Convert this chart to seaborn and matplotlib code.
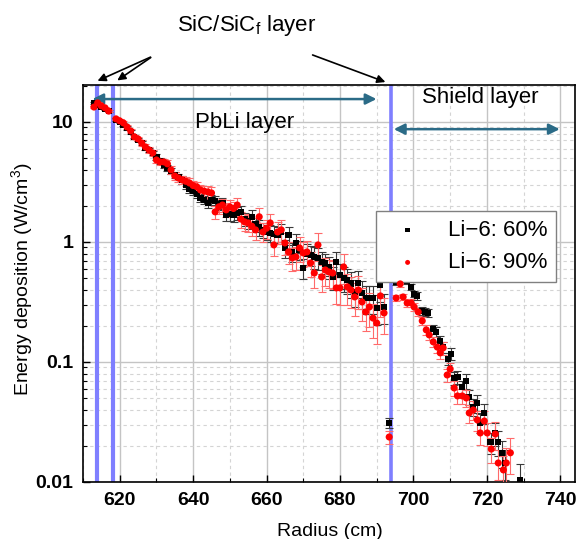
import numpy as np
import pandas as pd
import matplotlib
matplotlib.use("Agg")
import matplotlib.pyplot as plt
import matplotlib.ticker as mticker
import seaborn as sns

# ============================================
# DATA
# ============================================

# Li-6 60% enrichment
r_60 = [613, 614, 615, 616, 617,
        619, 620, 621, 622, 623, 624, 625, 626, 627, 628, 629,
        630, 631, 632, 633, 634, 635, 636, 637, 638, 639,
        640, 641, 642, 643, 644, 645, 646, 647, 648, 649,
        650, 651, 652, 653, 654, 655, 656, 657, 658, 659,
        660, 661, 662, 663, 664, 665, 666, 667, 668, 669,
        670, 671, 672, 673, 674, 675, 676, 677, 678, 679,
        680, 681, 682, 683, 684, 685, 686, 687, 688, 689,
        690, 691, 692, 693.4,
        695.3, 696.4, 697.2, 698.3, 699.4, 700.2, 701.0, 702.4, 703.2, 704.0,
        705.4, 706.2, 707.3, 708.1, 709.5, 710.3, 711.1, 712.0, 713.3, 714.4,
        715.2, 716.3, 717.4, 718.2, 719.3, 721.0, 722.3, 723.1, 724.2, 725.0,
        729.0]
e_60 = [14.4, 13.9, 13.3, 12.8, 12.3,
        10.4, 10.0, 9.44, 8.91, 8.25, 7.50, 7.08, 6.68, 6.07, 5.84, 5.52,
        5.11, 4.73, 4.38, 4.14, 3.91, 3.62, 3.48, 3.29, 2.99, 2.77,
        2.66, 2.51, 2.33, 2.24, 2.11, 2.24, 2.20, 2.05, 2.11, 1.68,
        1.71, 1.68, 1.74, 1.78, 1.55, 1.50, 1.62, 1.40, 1.33, 1.26,
        1.21, 1.19, 1.17, 1.14, 1.21, 0.891, 1.14, 0.825, 0.98, 0.858,
        0.607, 0.80, 0.78, 0.750, 0.736, 0.681, 0.66, 0.62, 0.511, 0.681,
        0.531, 0.501, 0.482, 0.45, 0.383, 0.455, 0.376, 0.341, 0.341, 0.341,
        0.282, 0.438, 0.287, 0.031,
        0.464, 0.551, 0.531, 0.473, 0.422, 0.369, 0.355, 0.266, 0.261, 0.256,
        0.188, 0.178, 0.150, 0.133, 0.106, 0.117, 0.0735, 0.0750, 0.0619, 0.0695,
        0.0511, 0.0422, 0.0455, 0.0310, 0.0376, 0.0215, 0.0256, 0.0215, 0.0175, 0.0144,
        0.0104]
err_60 = [2, 2, 2, 2, 2,
          3, 3, 3, 3, 3, 3, 3, 4, 4, 4, 4,
          5, 5, 5, 6, 6, 6, 6, 7, 7, 7,
          8, 8, 8, 8, 9, 9, 10, 10, 11, 11,
          12, 12, 12, 13, 13, 14, 14, 14, 15, 15,
          15, 16, 16, 16, 17, 17, 17, 18, 18, 18,
          19, 19, 19, 20, 20, 20, 21, 21, 22, 22,
          23, 23, 24, 24, 25, 25, 26, 26, 27, 27,
          28, 28, 28, 10,
          5, 5, 5, 6, 6, 6, 7, 7, 7, 8,
          9, 9, 10, 10, 11, 12, 12, 13, 13, 14,
          15, 16, 17, 18, 19, 20, 22, 24, 26, 28,
          35]

# Li-6 90% enrichment
r_90 = [613, 614, 615, 616, 617,
        619, 620, 621, 622, 623, 624, 625, 626, 627, 628, 629,
        630, 631, 632, 633, 634, 635, 636, 637, 638, 639,
        640, 641, 642, 643, 644, 645, 646, 647, 648, 649,
        650, 651, 652, 653, 654, 655, 656, 657, 658, 659,
        660, 661, 662, 663, 664, 665, 666, 667, 668, 669,
        670, 671, 672, 673, 674, 675, 676, 677, 678, 679,
        680, 681, 682, 683, 684, 685, 686, 687, 688, 689,
        690, 691, 692, 693.4,
        695.3, 696.4, 697.2, 698.3, 699.4, 700.2, 701.3, 702.4, 703.5, 704.3,
        705.4, 706.5, 707.3, 708.1, 709.2, 710.0, 711.1, 712.0, 713.3, 714.4,
        715.2, 716.3, 717.4, 718.2, 719.3, 720.1, 721.2, 722.3, 723.1, 724.5,
        725.3, 726.4]
e_90 = [13.3, 14.4, 13.6, 13.1, 12.3,
        10.6, 10.2, 9.81, 9.08, 8.41, 7.50, 7.22, 6.68, 6.19, 5.84, 5.52,
        4.82, 4.64, 4.64, 4.47, 3.98, 3.55, 3.41, 3.29, 3.20, 3.10,
        2.95, 2.88, 2.71, 2.65, 2.61, 2.56, 1.78, 1.96, 2.03, 1.85,
        1.96, 1.90, 2.03, 1.55, 1.47, 1.44, 1.35, 1.26, 1.62, 1.21,
        1.30, 1.44, 0.944, 1.21, 1.26, 0.98, 0.825, 0.736, 0.75, 0.891,
        0.81, 0.825, 0.668, 0.551, 0.944, 0.511, 0.584, 0.562, 0.551, 0.414,
        0.414, 0.619, 0.422, 0.398, 0.348, 0.398, 0.316, 0.261, 0.287, 0.232,
        0.211, 0.355, 0.256, 0.0237,
        0.341, 0.447, 0.348, 0.310, 0.310, 0.287, 0.261, 0.220, 0.185, 0.168,
        0.147, 0.133, 0.119, 0.131, 0.0779, 0.0874, 0.0607, 0.0521, 0.0521, 0.0501,
        0.0376, 0.0398, 0.0329, 0.0256, 0.0322, 0.0256, 0.0188, 0.0251, 0.0144, 0.0126,
        0.0144, 0.0175]
err_90 = [2, 2, 2, 2, 2,
          3, 3, 3, 4, 4, 4, 4, 5, 5, 5, 5,
          6, 6, 6, 7, 7, 7, 8, 8, 8, 9,
          9, 10, 10, 10, 11, 11, 12, 12, 13, 13,
          14, 14, 15, 15, 16, 16, 17, 17, 18, 18,
          18, 19, 19, 20, 20, 21, 21, 22, 22, 23,
          23, 24, 24, 25, 25, 25, 26, 26, 27, 27,
          28, 28, 29, 29, 30, 30, 31, 31, 32, 32,
          33, 33, 33, 12,
          6, 6, 6, 7, 7, 7, 8, 8, 9, 9,
          10, 10, 11, 12, 12, 13, 14, 14, 15, 16,
          17, 18, 19, 20, 21, 22, 24, 26, 28, 30,
          32, 34]

# layer boundaries (cm)
sic_lines = [613.7, 618.1]
shield_line = 694.0

df60 = pd.DataFrame({'Radius': r_60, 'Energy': e_60, 'Err': err_60})
df90 = pd.DataFrame({'Radius': r_90, 'Energy': e_90, 'Err': err_90})
df60['Yerr'] = df60['Energy'] * df60['Err'] / 100
df90['Yerr'] = df90['Energy'] * df90['Err'] / 100

# ============================================
# STYLE
# ============================================

sns.set_style("ticks")
plt.rcParams['font.family'] = ['Liberation Sans', 'DejaVu Sans']
plt.rcParams['mathtext.fontset'] = 'custom'
plt.rcParams['mathtext.rm'] = 'Liberation Sans'
plt.rcParams['text.color'] = 'black'
plt.rcParams['axes.labelcolor'] = 'black'
plt.rcParams['xtick.color'] = 'black'
plt.rcParams['ytick.color'] = 'black'

fig = plt.figure(figsize=(5.77, 5.39), dpi=100)
ax = fig.add_axes([0.1438, 0.1058, 0.8527, 0.7365])

# ============================================
# LAYER LINES
# ============================================

for xl in sic_lines:
    ax.axvline(xl, color='#7f7fff', lw=3, zorder=2)
ax.axvline(shield_line, color='#7f7fff', lw=2.6, zorder=2)

# ============================================
# ERROR BARS + POINTS
# ============================================

ax.errorbar(df60['Radius'], df60['Energy'], yerr=df60['Yerr'], fmt='none',
            ecolor='#3a3a3a', elinewidth=0.8, capsize=3, capthick=0.8, zorder=3)
ax.errorbar(df90['Radius'], df90['Energy'], yerr=df90['Yerr'], fmt='none',
            ecolor='#ff6a6a', elinewidth=0.8, capsize=3, capthick=0.8, zorder=4)

sns.scatterplot(data=df60, x='Radius', y='Energy', marker='s', color='black',
                s=20, edgecolor='none', label='Li\u22126: 60%', ax=ax, zorder=5)
sns.scatterplot(data=df90, x='Radius', y='Energy', marker='o', color='#ff0000',
                s=26, edgecolor='none', label='Li\u22126: 90%', ax=ax, zorder=6)

# ============================================
# AXES
# ============================================

ax.set_yscale('log')
ax.set_xlim(610, 744)
ax.set_ylim(0.01, 20.3)

ax.xaxis.set_major_locator(mticker.MultipleLocator(20))
ax.xaxis.set_minor_locator(mticker.MultipleLocator(10))
ax.yaxis.set_major_locator(mticker.FixedLocator([0.01, 0.1, 1, 10]))
ax.yaxis.set_major_formatter(mticker.FixedFormatter(['0.01', '0.1', '1', '10']))
ax.yaxis.set_minor_locator(mticker.LogLocator(base=10, subs=np.arange(2, 10)))
ax.yaxis.set_minor_formatter(mticker.NullFormatter())

ax.grid(which='major', color='#c4c4c4', lw=1.0, ls='-', zorder=0)
ax.grid(which='minor', color='#d4d4d4', lw=0.8, ls=(0, (3, 3)), zorder=0)
ax.set_axisbelow(True)

ax.tick_params(which='both', direction='in', top=False, right=False)
ax.tick_params(which='major', length=5, width=1.0, labelsize=14, pad=7)
ax.tick_params(which='minor', length=3, width=0.8)
for lab in ax.get_xticklabels() + ax.get_yticklabels():
    lab.set_fontweight('bold')
for sp in ax.spines.values():
    sp.set_color('black')
    sp.set_linewidth(1.2)

ax.set_xlabel('Radius (cm)', fontsize=14)
ax.set_ylabel('Energy deposition (W/cm$^\\mathregular{3}$)', fontsize=14)
ax.xaxis.set_label_coords(0.502, -0.103)
ax.yaxis.set_label_coords(-0.095, 0.511)

# ============================================
# LAYER ANNOTATIONS
# ============================================

teal = '#2b6b87'
ax.annotate('', xy=(611.8, 15.5), xytext=(690.7, 15.5),
            arrowprops=dict(arrowstyle='<|-|>', color=teal, lw=1.8, mutation_scale=16))
ax.annotate('', xy=(693.9, 8.7), xytext=(740.6, 8.7),
            arrowprops=dict(arrowstyle='<|-|>', color=teal, lw=1.8, mutation_scale=16))

ax.text(654, 9.8, 'PbLi layer', fontsize=16, ha='center', va='center')
ax.text(718.2, 16.1, 'Shield layer', fontsize=16, ha='center', va='center')

fig.text(247 / 577, 1 - 25 / 539, 'SiC/SiC$_\\mathregular{f}$ layer', fontsize=16,
         ha='center', va='center')
for tip in [(95, 457), (115, 457)]:
    ax.annotate('', xy=tip, xycoords='figure pixels', xytext=(153, 483),
                textcoords='figure pixels',
                arrowprops=dict(arrowstyle='-|>', color='black', lw=1.2, mutation_scale=12))
ax.annotate('', xy=(388, 456), xycoords='figure pixels', xytext=(310, 485),
            textcoords='figure pixels',
            arrowprops=dict(arrowstyle='-|>', color='black', lw=1.2, mutation_scale=12))

# ============================================
# LEGEND
# ============================================

leg = ax.legend(loc='upper right', bbox_to_anchor=(0.984, 0.71), fontsize=16,
                frameon=True, fancybox=False, framealpha=1, edgecolor='#808080',
                markerscale=0.7, handlelength=2, handletextpad=0.8, borderpad=0.4)
leg.get_frame().set_linewidth(1.0)

fig.savefig('out.png', dpi=100)
